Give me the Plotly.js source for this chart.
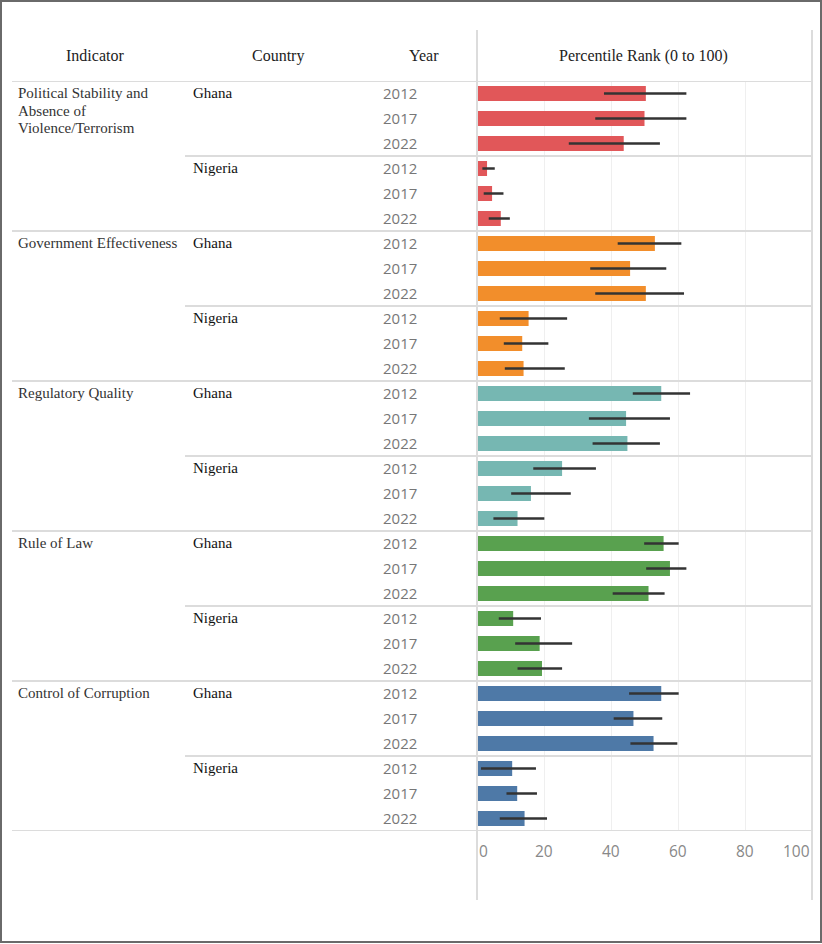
<!DOCTYPE html>
<html>
<head>
<meta charset="utf-8">
<script src="https://cdn.plot.ly/plotly-3.0.1.min.js"></script>
<style>
  html, body { margin: 0; padding: 0; background: #ffffff; }
  #chart { width: 822px; height: 944px; }
</style>
</head>
<body>
<div id="chart"></div>
<script>
// ---------------- DATA ----------------
const indicators = [
  "Political Stability and Absence of Violence/Terrorism",
  "Government Effectiveness",
  "Regulatory Quality",
  "Rule of Law",
  "Control of Corruption"
];
const indicatorLines = [
  ["Political Stability and", "Absence of", "Violence/Terrorism"],
  ["Government Effectiveness"],
  ["Regulatory Quality"],
  ["Rule of Law"],
  ["Control of Corruption"]
];
const countries = ["Ghana", "Nigeria"];
const years = ["2012", "2017", "2022"];
const tickValues = [0, 20, 40, 60, 80, 100];

// order in each array: Ghana 2012, 2017, 2022, Nigeria 2012, 2017, 2022
const polStab    = [50.4, 50.0, 43.8, 3.0, 4.5, 7.1];
const polStabLo  = [37.9, 35.3, 27.4, 1.6, 2.0, 3.5];
const polStabHi  = [62.5, 62.5, 54.6, 5.3, 7.9, 9.8];

const govEff     = [53.1, 45.7, 50.4, 15.4, 13.5, 13.9];
const govEffLo   = [42.0, 33.8, 35.3, 6.8, 8.0, 8.3];
const govEffHi   = [61.0, 56.5, 61.8, 26.9, 21.3, 26.2];

const regQual    = [55.0, 44.5, 44.9, 25.4, 16.1, 12.1];
const regQualLo  = [46.5, 33.4, 34.5, 16.8, 10.2, 4.9];
const regQualHi  = [63.6, 57.6, 54.6, 35.5, 28.0, 20.1];

const ruleLaw    = [55.7, 57.6, 51.2, 10.8, 18.7, 19.4];
const ruleLawLo  = [49.9, 50.5, 40.5, 6.5, 11.4, 12.1];
const ruleLawHi  = [60.2, 62.5, 56.0, 19.1, 28.4, 25.4];

const corrupt    = [55.0, 46.7, 52.7, 10.5, 12.0, 14.2];
const corruptLo  = [45.4, 40.8, 45.8, 1.2, 8.8, 6.8];
const corruptHi  = [60.2, 55.3, 59.8, 17.6, 17.9, 20.9];

const colors = ["#e15759", "#f28e2b", "#76b7b2", "#59a14f", "#4e79a7"];

// ---------------- BUILD ----------------
const W = 822, H = 944;
const px = v => v / W;
const py = v => (H - v) / H;

const series = [
  [polStab, polStabLo, polStabHi],
  [govEff, govEffLo, govEffHi],
  [regQual, regQualLo, regQualHi],
  [ruleLaw, ruleLawLo, ruleLawHi],
  [corrupt, corruptLo, corruptHi]
];
const perInd = countries.length * years.length;

const traces = series.map((s, k) => {
  const [v, lo, hi] = s;
  const ys = v.map((_, i) => k * perInd + i);
  return {
    type: "bar",
    orientation: "h",
    x: v,
    y: ys,
    width: 0.6,
    marker: { color: colors[k], line: { width: 0 } },
    error_x: {
      type: "data",
      symmetric: false,
      array: v.map((val, i) => hi[i] - val),
      arrayminus: v.map((val, i) => val - lo[i]),
      width: 0,
      thickness: 2.5,
      color: "#333333"
    },
    hoverinfo: "skip",
    showlegend: false,
    name: indicators[k]
  };
});

const serif = "Liberation Serif, Times New Roman, serif";
const sans = "Open Sans, sans-serif";
const lineCol = "#dcdcdc";

const shapes = [];
const annotations = [];

// outer border
shapes.push({ type: "rect", xref: "paper", yref: "paper", x0: px(1), x1: px(821), y0: py(942), y1: py(1),
  line: { color: "#6a6a6a", width: 2 }, fillcolor: "rgba(0,0,0,0)" });

const nRows = indicators.length * perInd;
// header line
shapes.push({ type: "line", xref: "paper", yref: "y", x0: px(12), x1: px(812), y0: -0.5, y1: -0.5,
  line: { color: lineCol, width: 2 } });
indicators.forEach((ind, k) => {
  const bottom = (k + 1) * perInd - 0.5;
  shapes.push({ type: "line", xref: "paper", yref: "y", x0: px(12), x1: px(812), y0: bottom, y1: bottom,
    line: { color: lineCol, width: 2 } });
  const mid = k * perInd + years.length - 0.5;
  shapes.push({ type: "line", xref: "paper", yref: "y", x0: px(185), x1: px(812), y0: mid, y1: mid,
    line: { color: lineCol, width: 2 } });

  indicatorLines[k].forEach((ln, j) => {
    annotations.push({ xref: "paper", yref: "y", x: px(16), y: k * perInd, xanchor: "left", yanchor: "middle",
      yshift: -17.5 * j + 0.5, text: ln, showarrow: false, font: { family: serif, size: 15, color: "#333333" } });
  });
  countries.forEach((c, ci) => {
    annotations.push({ xref: "paper", yref: "y", x: px(191), y: k * perInd + ci * years.length,
      xanchor: "left", yanchor: "middle", yshift: 0.5, text: c, showarrow: false,
      font: { family: serif, size: 15, color: "#111111" } });
    years.forEach((yr, yi) => {
      annotations.push({ xref: "paper", yref: "y", x: px(419), y: k * perInd + ci * years.length + yi,
        xanchor: "right", yanchor: "middle", yshift: 0.5, text: yr, showarrow: false,
        font: { family: sans, size: 15, color: "#777777" } });
    });
  });
});

// vertical pane lines
shapes.push({ type: "line", xref: "paper", yref: "paper", x0: px(477), x1: px(477), y0: py(900), y1: py(30),
  line: { color: lineCol, width: 2 } });
shapes.push({ type: "line", xref: "paper", yref: "paper", x0: px(812), x1: px(812), y0: py(900), y1: py(30),
  line: { color: lineCol, width: 2 } });

// headers
const headers = [["Indicator", 95], ["Country", 278], ["Year", 424], ["Percentile Rank (0 to 100)", 643]];
headers.forEach(h => {
  annotations.push({ xref: "paper", yref: "paper", x: px(h[1]), y: py(56), xanchor: "center", yanchor: "middle",
    text: h[0], showarrow: false, font: { family: serif, size: 16, color: "#222222" } });
});

// tick labels
tickValues.forEach((t, i) => {
  const anchor = i === 0 ? "left" : (i === tickValues.length - 1 ? "right" : "center");
  annotations.push({ xref: "x", yref: "paper", x: t, y: py(851), xanchor: anchor, yanchor: "middle",
    text: String(t), showarrow: false, font: { family: sans, size: 15.5, color: "#888888" } });
});

const layout = {
  width: W, height: H,
  margin: { l: 0, r: 0, t: 0, b: 0 },
  paper_bgcolor: "#ffffff",
  plot_bgcolor: "#ffffff",
  showlegend: false,
  bargap: 0.4,
  xaxis: {
    domain: [px(477), px(812)],
    range: [0, 100],
    tickvals: tickValues,
    showticklabels: false,
    showgrid: true,
    gridcolor: "#efefef",
    gridwidth: 1,
    zeroline: false,
    showline: false,
    ticks: "",
    fixedrange: true
  },
  yaxis: {
    domain: [py(831), py(81)],
    range: [nRows - 0.5, -0.5],
    showticklabels: false,
    showgrid: false,
    zeroline: false,
    showline: false,
    ticks: "",
    fixedrange: true
  },
  shapes: shapes,
  annotations: annotations
};

Plotly.newPlot("chart", traces, layout, { displayModeBar: false, staticPlot: true });
</script>
</body>
</html>
